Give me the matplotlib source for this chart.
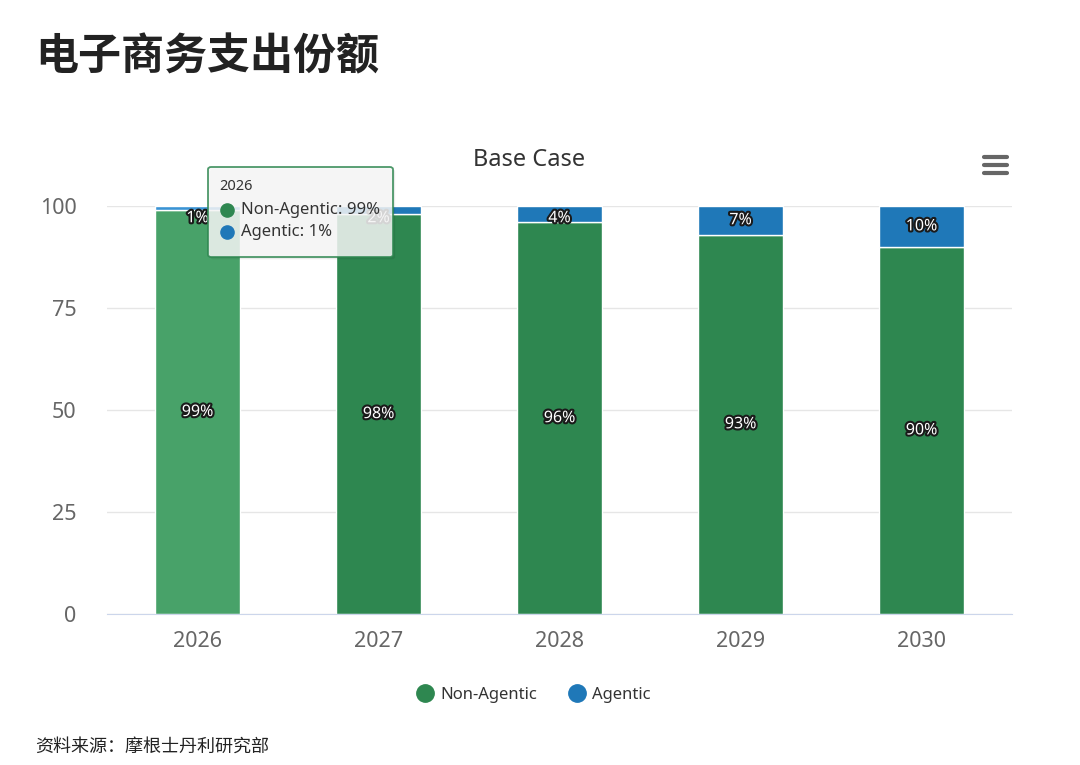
import matplotlib.pyplot as plt
import matplotlib.patheffects as pe
from matplotlib.lines import Line2D
from matplotlib.patches import FancyBboxPatch
import numpy as np

plt.rcParams['font.family'] = ['Noto Sans', 'Noto Sans CJK SC', 'DejaVu Sans']

years = ['2026', '2027', '2028', '2029', '2030']
non_agentic = [99, 98, 96, 93, 90]
agentic = [1, 2, 4, 7, 10]

green = '#2e8750'
blue = '#1f78b8'
green_hi = '#48a269'
blue_hi = '#3a93d4'

fig = plt.figure(figsize=(10.8, 7.65), dpi=100)
ax = fig.add_axes([107 / 1080, 1 - 614 / 765, 905 / 1080, 408 / 765])

x = np.arange(len(years))
w = 0.475
cols_g = [green_hi] + [green] * 4
cols_b = [blue_hi] + [blue] * 4
ax.bar(x, non_agentic, w, color=cols_g, edgecolor='white', linewidth=1, zorder=2)
ax.bar(x, agentic, w, bottom=non_agentic, color=cols_b, edgecolor='white', linewidth=1, zorder=2)

stroke = [pe.withStroke(linewidth=3, foreground='#1a1a1a')]
for i in range(len(years)):
    ax.text(x[i], non_agentic[i] / 2, f'{non_agentic[i]}%', ha='center', va='center',
            color='white', fontsize=11.5, fontweight='bold', path_effects=stroke, zorder=3)
    yc = min(non_agentic[i] + agentic[i] / 2, 97.0)
    ax.text(x[i], yc, f'{agentic[i]}%', ha='center', va='center',
            color='white', fontsize=11.5, fontweight='bold', path_effects=stroke, zorder=3)

ax.set_xlim(-0.5, 4.5)
ax.set_ylim(0, 100)
ax.set_yticks([0, 25, 50, 75, 100])
ax.set_xticks(x)
ax.set_xticklabels(years)
ax.yaxis.grid(True, color='#e6e6e6', linewidth=1, zorder=0)
ax.set_axisbelow(True)
for s in ['top', 'right', 'left']:
    ax.spines[s].set_visible(False)
ax.spines['bottom'].set_color('#ccd6eb')
ax.tick_params(axis='both', length=0, labelsize=15.5, labelcolor='#666666')
ax.tick_params(axis='y', pad=22)
ax.tick_params(axis='x', pad=12)

fig.text(529 / 1080, 1 - 160 / 765, 'Base Case', fontsize=17, color='#333333',
         ha='center', va='center')
fig.text(35 / 1080, 1 - 56 / 765, '电子商务支出份额', fontsize=31, fontweight='bold',
         color='#222222', va='center', ha='left', family=['Noto Sans CJK SC', 'DejaVu Sans'])
fig.text(35 / 1080, 1 - 747 / 765, '资料来源：摩根士丹利研究部', fontsize=13, color='#222222',
         va='center', ha='left', family=['Noto Sans CJK SC', 'DejaVu Sans'])

# menu icon
for yy in [157, 165, 173]:
    fig.add_artist(Line2D([984 / 1080, 1007 / 1080], [1 - yy / 765] * 2, color='#666666',
                          linewidth=3, solid_capstyle='round'))

# legend
handles = [Line2D([], [], marker='o', linestyle='', markersize=12.5, color=green),
           Line2D([], [], marker='o', linestyle='', markersize=12.5, color=blue)]
fig.legend(handles, ['Non-Agentic', 'Agentic'], loc='center', ncol=2, frameon=False,
           bbox_to_anchor=(531 / 1080, 1 - 695 / 765), fontsize=12, handletextpad=0.1,
           columnspacing=1.6, labelcolor='#333333', handlelength=1.6)

# tooltip
tx0, ty0, tx1, ty1 = 208 / 1080, 1 - 257 / 765, 393 / 1080, 1 - 167 / 765
shadow = FancyBboxPatch((tx0 + 0.002, ty0 - 0.003), tx1 - tx0, ty1 - ty0,
                        boxstyle='round,pad=0,rounding_size=0.003', transform=fig.transFigure,
                        facecolor='black', alpha=0.08, edgecolor='none', zorder=5)
box = FancyBboxPatch((tx0, ty0), tx1 - tx0, ty1 - ty0,
                     boxstyle='round,pad=0,rounding_size=0.003', transform=fig.transFigure,
                     facecolor='#f7f7f7', alpha=0.85, edgecolor=green, linewidth=1.3, zorder=6)
fig.add_artist(shadow)
fig.add_artist(box)
fig.text(219 / 1080, 1 - 187 / 765, '2026', fontsize=10.5, color='#333333', va='center', zorder=7)
for yy, c, lab in [(210, green, 'Non-Agentic: 99%'), (232, blue, 'Agentic: 1%')]:
    fig.add_artist(Line2D([227 / 1080], [1 - yy / 765], marker='o', markersize=9.5,
                          color=c, linestyle='', zorder=7))
    fig.text(241 / 1080, 1 - yy / 765, lab, fontsize=12, color='#333333', va='center', zorder=7)

fig.savefig('out.png', dpi=100)
